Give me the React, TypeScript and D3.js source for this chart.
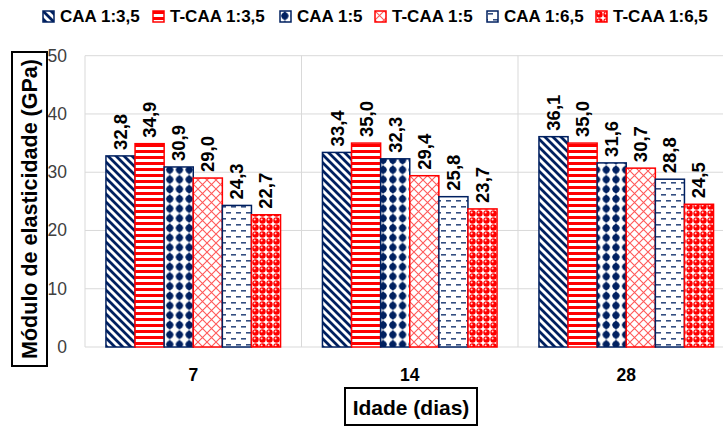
import React from "react";
import * as d3 from "d3";

// Ages (days) on the x axis
const ages = ["7", "14", "28"];
// Mix series, in legend order
const series = ["CAA 1:3,5", "T-CAA 1:3,5", "CAA 1:5", "T-CAA 1:5", "CAA 1:6,5", "T-CAA 1:6,5"];
// Modulus of elasticity (GPa) per series, one value per age
const caa135 = [32.8, 33.4, 36.1];
const tcaa135 = [34.9, 35.0, 35.0];
const caa15 = [30.9, 32.3, 31.6];
const tcaa15 = [29.0, 29.4, 30.7];
const caa165 = [24.3, 25.8, 28.8];
const tcaa165 = [22.7, 23.7, 24.5];
const yTicks = [0, 10, 20, 30, 40, 50];

const values = [caa135, tcaa135, caa15, tcaa15, caa165, tcaa165];

const W = 723;
const H = 428;
const NAVY = "#002060";
const RED = "#FF0000";
const GRID = "#D9D9D9";
const FONT = "'Liberation Sans', Arial, sans-serif";

// legend item start positions
const legendX = [43, 153, 280, 375, 487, 596];

const patternIds = ["p-diag", "p-hstripe", "p-dots", "p-trellis", "p-dash", "p-sphere"];
const strokes = [NAVY, RED, NAVY, RED, NAVY, RED];

function Patterns() {
  return (
    <defs>
      <pattern id="p-diag" patternUnits="userSpaceOnUse" width={8} height={8}>
        <rect width={8} height={8} fill="#fff" />
        <path d="M-2,-2 L10,10 M-2,6 L2,10 M6,-2 L10,2" stroke={NAVY} strokeWidth={2.8} />
      </pattern>
      <pattern id="p-hstripe" patternUnits="userSpaceOnUse" width={6} height={6}>
        <rect width={6} height={6} fill="#fff" />
        <rect y={0} width={6} height={3} fill={RED} />
      </pattern>
      <pattern id="p-dots" patternUnits="userSpaceOnUse" width={9.7} height={9.7}>
        <rect width={9.7} height={9.7} fill="#fff" />
        <circle cx={4.85} cy={4.85} r={3.5} fill={NAVY} />
        <path d="M4.85,0 L8.6,4.85 L4.85,9.7 L1.1,4.85 Z" fill={NAVY} />
      </pattern>
      <pattern id="p-trellis" patternUnits="userSpaceOnUse" width={9} height={9}>
        <rect width={9} height={9} fill="#fff" />
        <path d="M0,0 L9,9 M9,0 L0,9" stroke={RED} strokeOpacity={0.65} strokeWidth={1.1} />
      </pattern>
      <pattern id="p-dash" patternUnits="userSpaceOnUse" width={10} height={12}>
        <rect width={10} height={12} fill="#fff" />
        <rect x={1} y={2} width={5} height={1.6} fill={NAVY} fillOpacity={0.8} />
        <rect x={6} y={8} width={5} height={1.6} fill={NAVY} fillOpacity={0.8} />
        <rect x={-4} y={8} width={5} height={1.6} fill={NAVY} fillOpacity={0.8} />
      </pattern>
      <pattern id="p-sphere" patternUnits="userSpaceOnUse" width={7} height={7}>
        <rect width={7} height={7} fill="#fff" />
        <circle cx={3.5} cy={3.5} r={3.2} fill={RED} />
        <circle cx={2.6} cy={2.6} r={1} fill="#fff" fillOpacity={0.85} />
      </pattern>
    </defs>
  );
}

export default function App() {
  const left = 85;
  const x = d3.scaleBand<string>().domain(ages).range([left, left + 3 * 216.5]).padding(0);
  const xs = d3.scaleBand<string>().domain(series).range([0, x.bandwidth()]).paddingInner(0).paddingOuter(0.72);
  const y = d3.scaleLinear().domain([0, 50]).range([347, 55.7]);

  const boundaries = ages.map((a) => x(a) as number);

  return (
    <svg width={W} height={H} style={{ position: "absolute", left: 0, top: 0, background: "#fff" }} fontFamily={FONT}>
      <Patterns />
      <rect width={W} height={H} fill="#fff" />

      {/* gridlines */}
      {yTicks.map((t) => (
        <line key={"g" + t} x1={left} x2={W} y1={y(t)} y2={y(t)} stroke={GRID} strokeWidth={1} />
      ))}
      {boundaries.map((bx, i) => (
        <line key={"v" + i} x1={bx} x2={bx} y1={y(50)} y2={y(0)} stroke={GRID} strokeWidth={1} />
      ))}

      {/* y tick labels */}
      {yTicks.map((t) => (
        <text key={"t" + t} x={67} y={y(t)} textAnchor="end" dominantBaseline="central" fontSize={17.5} fill="#404040">
          {t}
        </text>
      ))}

      {/* bars */}
      {series.map((s, si) =>
        ages.map((a, ai) => {
          const v = values[si][ai];
          const bx = (x(a) as number) + (xs(s) as number);
          const bw = xs.bandwidth();
          return (
            <g key={s + a}>
              <rect
                x={bx}
                y={y(v)}
                width={bw}
                height={y(0) - y(v)}
                fill={`url(#${patternIds[si]})`}
                stroke={strokes[si]}
                strokeWidth={1.5}
              />
              <text
                transform={`translate(${bx + bw / 2},${y(v) - 6}) rotate(-90)`}
                dominantBaseline="central"
                fontSize={18.5}
                fontWeight="bold"
                fill="#000"
              >
                {v.toFixed(1).replace(".", ",")}
              </text>
            </g>
          );
        })
      )}

      {/* x category labels */}
      {ages.map((a) => (
        <text key={"x" + a} x={(x(a) as number) + x.bandwidth() / 2} y={375} textAnchor="middle" dominantBaseline="central" fontSize={17.5} fontWeight="bold" fill="#000">
          {a}
        </text>
      ))}

      {/* y axis title */}
      <rect x={12} y={52} width={35} height={314} fill="#fff" stroke="#000" strokeWidth={2} />
      <text transform={`translate(30,209) rotate(-90)`} textAnchor="middle" dominantBaseline="central" fontSize={21.5} fontWeight="bold" fill="#000">
        Módulo de elasticidade (GPa)
      </text>

      {/* x axis title */}
      <rect x={345} y={388} width={132} height={37} fill="#fff" stroke="#000" strokeWidth={2} />
      <text x={411} y={407} textAnchor="middle" dominantBaseline="central" fontSize={21} fontWeight="bold" fill="#000">
        Idade (dias)
      </text>

      {/* legend */}
      {series.map((s, si) => (
        <g key={"l" + s} transform={`translate(${legendX[si]},11)`}>
          <rect x={0} y={0} width={11} height={11} fill={`url(#${patternIds[si]})`} stroke={strokes[si]} strokeWidth={1.5} />
          <text x={17} y={5.5} dominantBaseline="central" fontSize={17} fontWeight="bold" fill="#000">
            {s}
          </text>
        </g>
      ))}
    </svg>
  );
}
